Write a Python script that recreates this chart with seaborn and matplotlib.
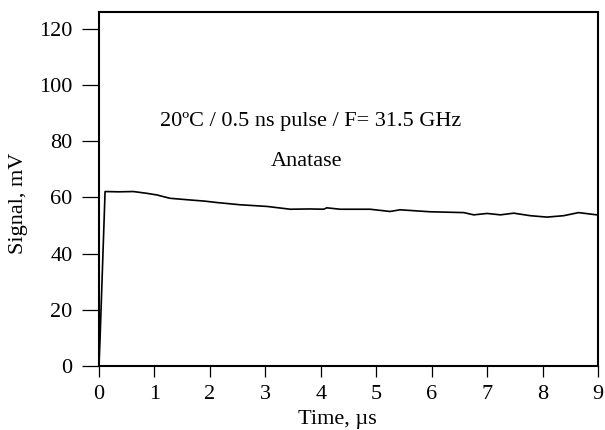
import numpy as np
import pandas as pd
import seaborn as sns
import matplotlib
matplotlib.use("Agg")
import matplotlib.pyplot as plt

## data ##
time_us = [0.0, 0.02, 0.11, 0.35, 0.62, 0.85, 1.04, 1.28, 1.64, 1.90, 2.12,
           2.54, 3.03, 3.45, 3.80, 4.05, 4.11, 4.35, 4.89, 5.25, 5.43, 5.97,
           6.58, 6.76, 7.00, 7.24, 7.48, 7.78, 8.08, 8.38, 8.65, 8.98]
signal_mv = [0.0, 10.0, 62.1, 62.0, 62.1, 61.5, 60.9, 59.7, 59.1, 58.7, 58.2,
             57.4, 56.8, 55.8, 55.9, 55.8, 56.3, 55.8, 55.8, 55.0, 55.6, 54.9,
             54.6, 53.8, 54.3, 53.8, 54.4, 53.5, 53.0, 53.5, 54.6, 53.8]
x_ticks = list(range(0, 10))
y_ticks = list(range(0, 121, 20))

df = pd.DataFrame({"Time": time_us, "Signal": signal_mv})

sns.set_style("ticks")
plt.rcParams["font.family"] = ["Liberation Serif", "DejaVu Serif"]
plt.rcParams["text.color"] = "black"
plt.rcParams["axes.labelcolor"] = "black"

fig = plt.figure(figsize=(6.05, 4.3), dpi=100)
ax = fig.add_axes([0.1636, 0.1488, 0.8248, 0.8233])

sns.lineplot(data=df, x="Time", y="Signal", color="black", linewidth=1.2, ax=ax)

ax.set_xlim(0, 9)
ax.set_ylim(0, 126)
ax.set_xticks(x_ticks)
ax.set_yticks(y_ticks)
ax.tick_params(axis="y", direction="out", length=12, width=0.9, pad=7,
               labelsize=16, colors="black")
ax.tick_params(axis="x", direction="out", length=8, width=0.9, pad=6,
               labelsize=16, colors="black")
for s in ax.spines.values():
    s.set_visible(True)
    s.set_linewidth(1.5)
    s.set_color("black")

ax.set_xlabel("Time, \u00b5s", fontsize=16)
ax.set_ylabel("Signal, mV", fontsize=16)
ax.xaxis.set_label_coords(0.477, -0.125)
ax.yaxis.set_label_coords(-0.142, 0.46)

ax.text(1.10, 87, "20\u00baC / 0.5 ns pulse / F= 31.5 GHz", fontsize=16,
        ha="left", va="center")
ax.text(3.75, 72.8, "Anatase", fontsize=16, ha="center", va="center")

fig.savefig("out.png", dpi=100)
